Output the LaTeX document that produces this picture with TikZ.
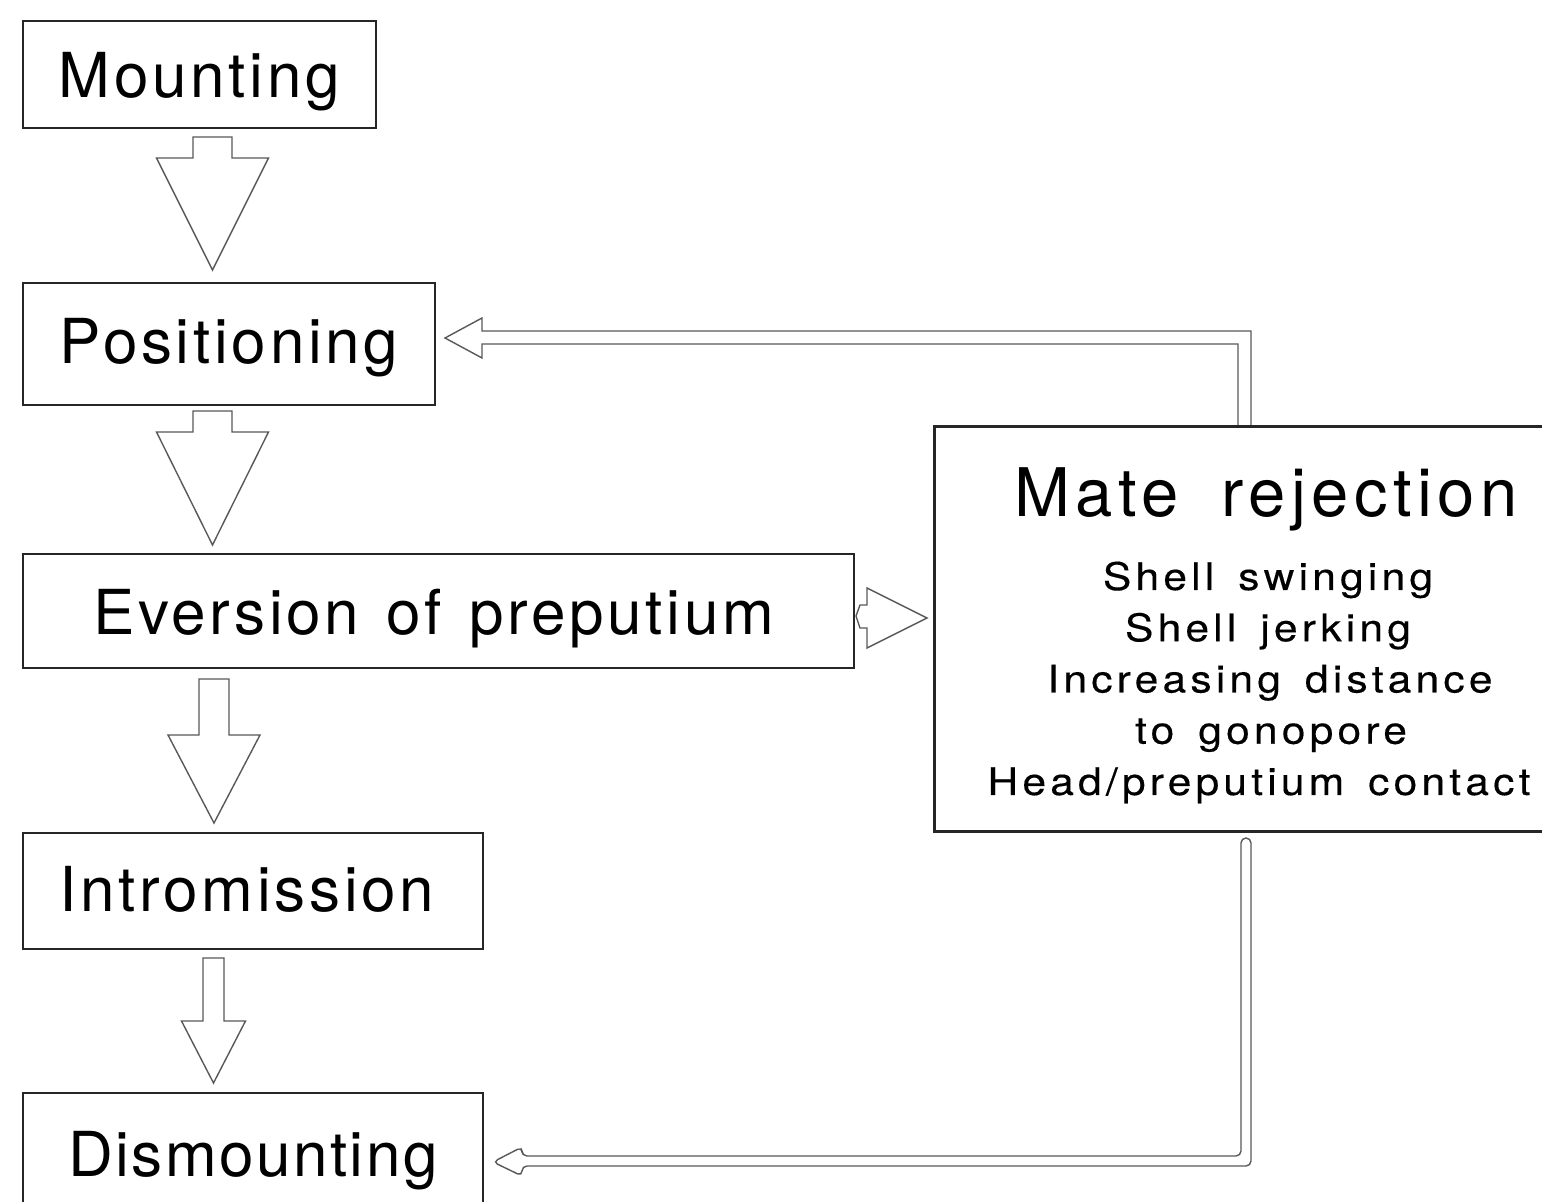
\documentclass[tikz,border=0pt]{standalone}
\usepackage{fontspec}
\setmainfont{TeX Gyre Heros}
\newfontfamily\listfont[FakeStretch=1.12, FakeBold=0.3, LetterSpace=11]{TeX Gyre Heros}
\usetikzlibrary{calc}
\newcommand\widesp[1]{\spaceskip=#1\fontdimen2\font\relax}
\newcommand\wsp{\hspace*{12pt}}
\begin{document}
\begin{tikzpicture}[x=0.5pt,y=-0.5pt,
  box/.style={draw=black!85, line width=1pt, inner sep=0pt, anchor=north west, text depth=0pt},
  big/.style={font=\fontsize{31}{36}\selectfont\addfontfeature{LetterSpace=6}},
  lst/.style={font=\listfont\fontsize{19}{25.6}\selectfont, anchor=base, inner sep=0pt},
  blk/.style={draw=black!65, line width=0.7pt, line join=miter, fill=white}]
\useasboundingbox (0,0) rectangle (1542,1202);
\fill[white] (0,0) rectangle (1542,1202);
\newcommand\dnarrow[6]{\draw[blk] (#1-#3,#2) -- (#1+#3,#2) -- (#1+#3,#4) -- (#1+#5,#4) -- (#1,#6) -- (#1-#5,#4) -- (#1-#3,#4) -- cycle;}
% boxes
\node[box, big, minimum width=176.5pt, minimum height=53.5pt, text height=23.5pt] (mount) at (22,20) {Mounting};
\node[box, big, minimum width=206pt, minimum height=61pt, text height=20pt] (pos) at (22,282) {Positioning};
\node[box, big, minimum width=415.5pt, minimum height=57pt, text height=24pt] (ever) at (22,553) {\widesp{1.3}Eversion of preputium\kern5pt};
\node[box, big, minimum width=230pt, minimum height=58pt, text height=20pt] (intro) at (22,832) {Intromission\kern6pt};
\node[box, font=\fontsize{31}{36}\selectfont\addfontfeature{LetterSpace=4}, minimum width=230pt, minimum height=57pt, text height=26pt] (dism) at (22,1092) {Dismounting};
\node[box, line width=1.3pt, minimum width=304.5pt, minimum height=202.5pt] (mate) at (933,425) {};
\node[font=\fontsize{33.5}{38}\selectfont\addfontfeature{LetterSpace=8}, anchor=base] (mtitle) at (1266,517) {\widesp{1.8}Mate rejection};
\node[lst] (l1) at (1268,590) {\mbox{Shell}\wsp\mbox{swinging}};
\node[lst] (l2) at (1268,641.25) {\mbox{Shell}\wsp\mbox{jerking}};
\node[lst] (l3) at (1270,692.5) {\mbox{Increasing}\wsp\mbox{distance}};
\node[lst] (l4) at (1271,743.75) {\mbox{to}\wsp\mbox{gonopore}};
\node[lst] (l5) at (1259,795) {\mbox{Head/preputium}\wsp\mbox{contact}};
% block arrows
\dnarrow{212.5}{137}{19.5}{158}{56}{270}
\dnarrow{212.5}{411}{19.5}{432}{56}{545}
\dnarrow{214}{679}{15}{735}{46}{823}
\dnarrow{213.5}{958}{10.5}{1021}{32}{1083}
\draw[blk] (860,605) -- (867,605) -- (867,588) -- (927,618) -- (867,648) -- (867,628) -- (860,628) -- (856,616) -- cycle;
% double connectors
\coordinate (tin) at (1238,0);
\coordinate (tout) at (1251,0);
\draw[blk, fill=none] (mate.north -| tin) -- (1238,344) -- (482,344) -- (482,358) -- (445,338) -- (482,318) -- (482,331) -- (1251,331) -- (mate.north -| tout);
\draw[blk, fill=none, rounded corners=2.5pt] (522,1156) -- (1241,1156) -- (1241,838) -- (1251,838) -- (1251,1166) -- (522,1166) -- (522,1176) -- (493,1162) -- (522,1147) -- cycle;
\end{tikzpicture}
\end{document}
